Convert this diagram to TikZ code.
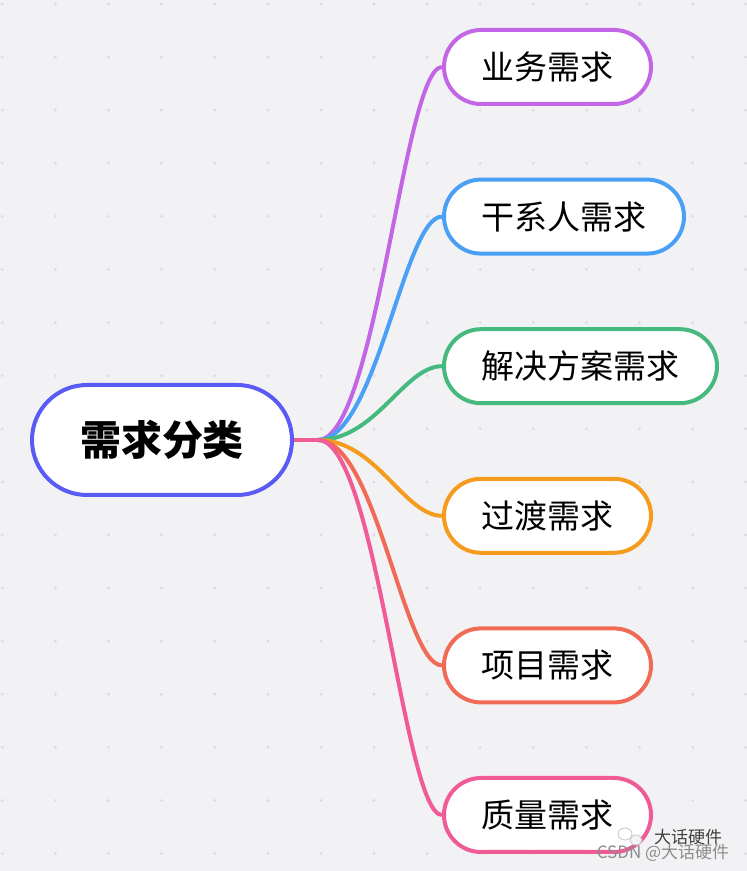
\documentclass[tikz,border=0pt]{standalone}
\usepackage{fontspec}
\newfontfamily\cjk{Noto Sans CJK SC}
\usetikzlibrary{positioning}

\definecolor{bgcol}{HTML}{F2F2F5}
\definecolor{dotcol}{HTML}{DCDCE0}
\definecolor{rootcol}{HTML}{5A5AF5}
\definecolor{bizcol}{HTML}{C266E6}
\definecolor{stakecol}{HTML}{4AA0F5}
\definecolor{solcol}{HTML}{46B97E}
\definecolor{transcol}{HTML}{F59B1E}
\definecolor{projcol}{HTML}{F06A55}
\definecolor{qualcol}{HTML}{F05A96}

\begin{document}
\begin{tikzpicture}[x=1pt, y=1pt, node distance=71.6pt,
		rootbox/.style={draw=rootcol, line width=4pt, fill=white, rounded corners=55pt,
			minimum height=110pt, inner xsep=48pt, font=\cjk\bfseries\fontsize{41}{41}\selectfont},
		topic/.style={draw=#1, line width=4pt, fill=white, rounded corners=37pt,
			minimum height=74pt, inner xsep=37.5pt, font=\cjk\fontsize{33}{33}\selectfont},
		link/.style={draw=#1, line width=4pt}]
		\useasboundingbox (0,0) rectangle (747,871);
		\fill[bgcol] (0,0) rectangle (747,871);
		\foreach \i in {0,...,14}
			\foreach \j in {0,...,16}
				\fill[dotcol] (2.3+53.1*\i, 867-53.1*\j) circle (1.6pt);
		
		\node[rootbox] (root) at (162,431) {需求分类};
		\coordinate (jn) at (318,431);
		
		\node[topic=bizcol, anchor=west] (biz) at (442,804) {业务需求};
		\node[topic=stakecol, below=of biz.south west, anchor=north west] (stake) {干系人需求};
		\node[topic=solcol, below=of stake.south west, anchor=north west] (sol) {解决方案需求};
		\node[topic=transcol, below=of sol.south west, anchor=north west] (trans) {过渡需求};
		\node[topic=projcol, below=of trans.south west, anchor=north west] (proj) {项目需求};
		\node[topic=qualcol, below=of proj.south west, anchor=north west] (qual) {质量需求};
		
		\draw[link=bizcol] (jn) .. controls +(58,0) and +(-38,0) .. (biz.west);
		\draw[link=stakecol] (jn) .. controls +(58,0) and +(-38,0) .. (stake.west);
		\draw[link=solcol] (jn) .. controls +(58,0) and +(-38,0) .. (sol.west);
		\draw[link=transcol] (jn) .. controls +(58,0) and +(-38,0) .. (trans.west);
		\draw[link=projcol] (jn) .. controls +(58,0) and +(-38,0) .. (proj.west);
		\draw[link=qualcol] (jn) .. controls +(58,0) and +(-38,0) .. (qual.west);
		\draw[link=qualcol] (root.east) -- (jn);
		
		% watermark
		\draw[gray!45, line width=0.8pt] (625,37) ellipse (7pt and 6pt);
		\draw[gray!45, line width=0.8pt, fill=bgcol] (636,31) ellipse (6pt and 5pt);
		\node[text=black!75, font=\cjk\fontsize{17}{17}\selectfont] (wmname) at (688,34) {大话硬件};
		\node[text=black!45, font=\cjk\fontsize{17}{17}\selectfont] (wmsite) at (663,18) {CSDN @大话硬件};
	\end{tikzpicture}
\end{document}
